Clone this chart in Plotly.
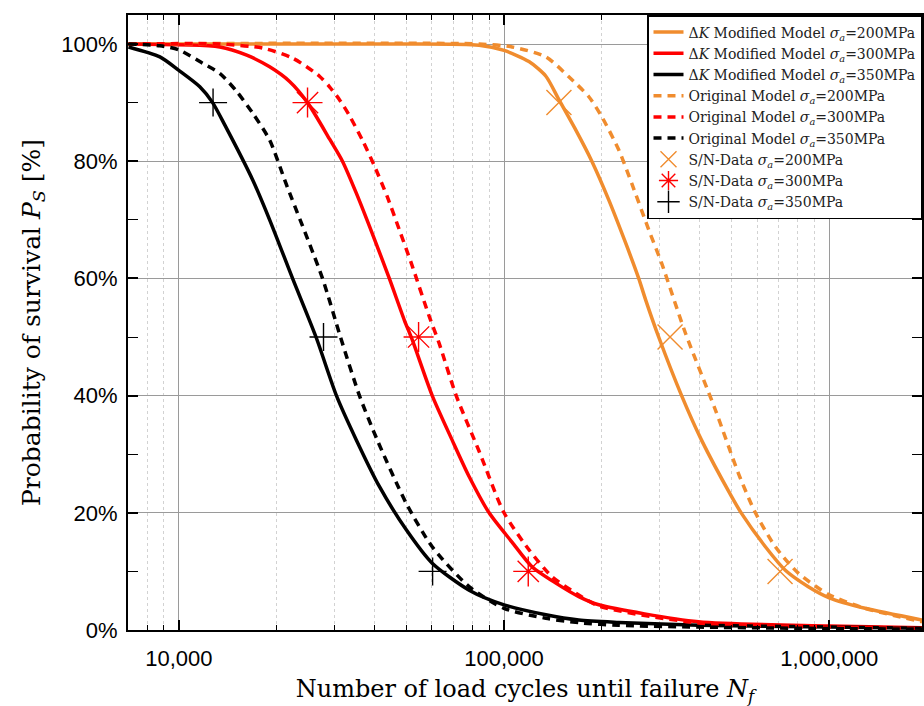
import plotly.graph_objects as go

# ---------------- data ----------------
# Delta-K modified model, sigma_a = 350 MPa
n_mod_350 = [7000, 8743, 10000, 11600, 12700, 13840, 16870, 19020, 22370, 26410, 30520, 35160,
             41360, 50050, 60130, 78080, 100000, 134500, 169800, 225400, 396300, 1000000, 1930000]
p_mod_350 = [0.995, 0.978, 0.955, 0.927, 0.90, 0.862, 0.768, 0.700, 0.60, 0.50, 0.40, 0.324,
             0.245, 0.171, 0.114, 0.068, 0.043, 0.026, 0.017, 0.013, 0.008, 0.005, 0.003]
# Original model, sigma_a = 350 MPa
n_org_350 = [7000, 8743, 10000, 11850, 13360, 15060, 16870, 19020, 21450, 27650, 31400,
             35920, 40770, 50050, 60130, 78080, 100000, 134500, 169800, 225400, 396300, 1000000, 1930000]
p_org_350 = [1.0, 0.997, 0.99, 0.967, 0.95, 0.919, 0.882, 0.836, 0.759, 0.60, 0.50,
             0.40, 0.324, 0.216, 0.142, 0.074, 0.037, 0.020, 0.0125, 0.008, 0.005, 0.0025, 0.0015]
# Delta-K modified model, sigma_a = 300 MPa
n_mod_300 = [7000, 13360, 16170, 19020, 21900, 24870, 29060, 31850, 35160, 39370, 44380, 49350,
             52220, 60130, 69260, 78080, 89960, 105800, 121900, 144300, 169800, 195600, 396300,
             1000000, 1930000]
p_mod_300 = [1.0, 0.995, 0.981, 0.961, 0.936, 0.90, 0.838, 0.80, 0.745, 0.676, 0.60, 0.529,
             0.495, 0.40, 0.324, 0.262, 0.20, 0.150, 0.108, 0.080, 0.057, 0.043, 0.014,
             0.007, 0.004]
# Original model, sigma_a = 300 MPa
n_org_300 = [7000, 13360, 18100, 22370, 27070, 29060, 31180, 33450, 36680, 39930, 43770, 47640,
             51850, 58890, 63180, 71260, 83820, 100000, 119300, 140400, 166300, 195600,
             396300, 1000000, 1930000]
p_org_300 = [1.0, 1.0, 0.993, 0.976, 0.945, 0.927, 0.905, 0.878, 0.836, 0.792, 0.739, 0.683,
             0.626, 0.535, 0.489, 0.40, 0.305, 0.20, 0.137, 0.091, 0.063, 0.041,
             0.012, 0.005, 0.0025]
# Delta-K modified model, sigma_a = 200 MPa
n_mod_200 = [7000, 47640, 83820, 100000, 119300, 134500, 147500, 166300, 186200, 209900, 236700,
             259500, 272700, 298900, 351600, 404900, 500500, 537300, 636400, 732800, 862300,
             1000000, 1289000, 1930000]
p_mod_200 = [1.0, 1.0, 0.998, 0.989, 0.970, 0.945, 0.905, 0.853, 0.80, 0.734, 0.66,
             0.60, 0.563, 0.50, 0.40, 0.324, 0.228, 0.199, 0.142, 0.102, 0.074,
             0.055, 0.037, 0.017]
# Original model, sigma_a = 200 MPa
n_org_200 = [7000, 83820, 105800, 134500, 158200, 182300, 199800, 225400, 247000, 278600, 305200,
             361600, 447000, 526000, 592900, 683000, 803400, 1000000, 1289000, 1930000]
p_org_200 = [1.0, 1.0, 0.995, 0.978, 0.944, 0.91, 0.876, 0.819, 0.762, 0.683, 0.626,
             0.506, 0.375, 0.267, 0.20, 0.142, 0.097, 0.06, 0.037, 0.014]
# S/N test data
sn_levels = [0.9, 0.5, 0.1]
sn_200 = [147500, 324000, 706000]
sn_300 = [24870, 54600, 118700]
sn_350 = [12740, 27850, 60300]

x_tick_vals = [10000, 100000, 1000000]
x_tick_text = ["10,000", "100,000", "1,000,000"]

# ---------------- styling ----------------
ORANGE = "#F08C2E"
RED = "#FF0000"
BLACK = "#000000"
SERIF = "DejaVu Serif, serif"
SANS = "Liberation Sans, Arial, sans-serif"
LW = 3.5
DASH = "8px,6px"

def nm(prefix, s):
    return f"{prefix} <i>σ</i><sub><i>a</i></sub>={s}MPa"

fig = go.Figure()
mods = [(n_mod_200, p_mod_200, ORANGE, "200"), (n_mod_300, p_mod_300, RED, "300"),
        (n_mod_350, p_mod_350, BLACK, "350")]
for n, p, c, s in mods:
    fig.add_trace(go.Scatter(x=n, y=p, mode="lines",
                             line=dict(color=c, width=LW, shape="spline", smoothing=0.7),
                             name=nm("Δ<i>K</i> Modified Model", s)))
orgs = [(n_org_200, p_org_200, ORANGE, "200"), (n_org_300, p_org_300, RED, "300"),
        (n_org_350, p_org_350, BLACK, "350")]
for n, p, c, s in orgs:
    fig.add_trace(go.Scatter(x=n, y=p, mode="lines",
                             line=dict(color=c, width=LW, dash=DASH, shape="spline", smoothing=0.7),
                             name=nm("Original Model", s)))
sns = [(sn_200, ORANGE, "x-thin-open", 25, "200"), (sn_300, RED, "asterisk-open", 25, "300"),
       (sn_350, BLACK, "cross-thin-open", 20, "350")]
for n, c, sym, sz, s in sns:
    fig.add_trace(go.Scatter(x=n, y=sn_levels, mode="markers",
                             marker=dict(symbol=sym, size=sz, color=c, line=dict(color=c, width=1.4)),
                             name=nm("S/N-Data", s)))

minor_x = [m * 10 ** e for e in range(3, 7) for m in range(2, 10)]

fig.update_layout(
    width=924, height=706,
    margin=dict(l=128, r=0, t=15, b=76),
    plot_bgcolor="white", paper_bgcolor="white",
    font=dict(family=SERIF, color="black"),
    legend=dict(x=1, y=1, xanchor="right", yanchor="top", bgcolor="white",
                bordercolor="black", borderwidth=1.5,
                font=dict(family=SERIF, size=14, color="#222"),
                tracegroupgap=0, itemwidth=30),
    xaxis=dict(type="log", range=[3.8436, 6.2853],
               tickvals=x_tick_vals, ticktext=x_tick_text,
               ticks="inside", ticklen=10, tickwidth=1.5, tickcolor="black",
               showline=True, linecolor="black", linewidth=2, mirror="allticks",
               showgrid=True, gridcolor="#9a9a9a", gridwidth=1,
               tickfont=dict(family=SANS, size=22, color="black"),
               ticklabelstandoff=8,
               minor=dict(tickvals=minor_x, ticks="inside", ticklen=5, tickwidth=1.2,
                          tickcolor="black", showgrid=True, gridcolor="#d2d2d2",
                          griddash="dot", gridwidth=1),
               title=dict(text="Number of load cycles until failure <i>N</i><sub><i>f</i></sub>",
                          font=dict(family=SERIF, size=24, color="black"), standoff=12),
               zeroline=False),
    yaxis=dict(range=[0, 1.0495], tickvals=[0, 0.2, 0.4, 0.6, 0.8, 1.0], tickformat=".0%",
               ticks="inside", ticklen=10, tickwidth=1.5, tickcolor="black",
               showline=True, linecolor="black", linewidth=2, mirror="allticks",
               showgrid=True, gridcolor="#9a9a9a", gridwidth=1,
               tickfont=dict(family=SANS, size=22, color="black"),
               ticklabelstandoff=4,
               minor=dict(tickvals=[0.1, 0.3, 0.5, 0.7, 0.9], ticks="inside", ticklen=10,
                          tickwidth=1.2, tickcolor="black", showgrid=False),
               title=dict(text="Probability of survival <i>P</i><sub><i>S</i></sub> [%]",
                          font=dict(family=SERIF, size=25, color="black"), standoff=14),
               zeroline=False),
)

fig.write_html("out.html", config={"displayModeBar": False},
               post_script="document.body.style.margin='0';document.body.style.padding='0';"
                           "document.documentElement.style.overflow='hidden';")
